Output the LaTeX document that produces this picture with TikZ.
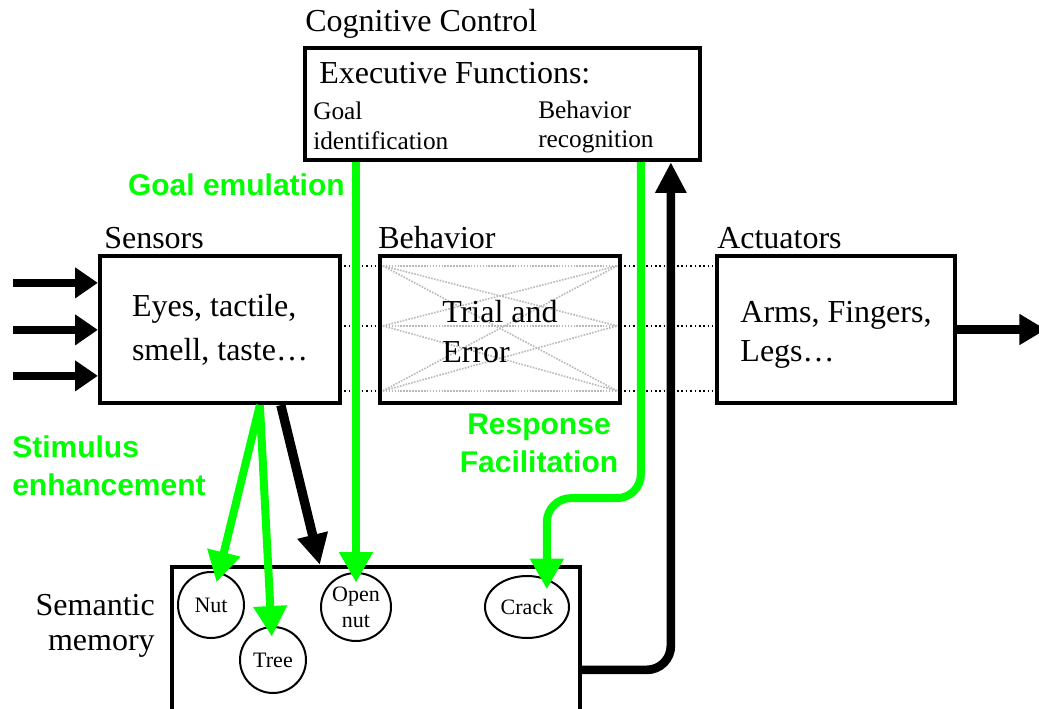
\documentclass[tikz,border=0pt]{standalone}
\usepackage{fontspec}
\setmainfont{Liberation Serif}
\newfontfamily\cuefont{Liberation Sans}
\usetikzlibrary{arrows.meta,calc,positioning,shapes.geometric}
\definecolor{emugreen}{RGB}{0,255,0}
\tikzset{
  box/.style     = {draw, line width=3.2pt, fill=white, inner sep=0pt},
  memo/.style    = {draw, line width=1.5pt, fill=white, inner sep=0pt,
                    font=\fontsize{16.5}{19.5}\selectfont, align=center},
  lbl/.style     = {inner sep=0pt, font=\fontsize{24}{33}\selectfont},
  note/.style    = {inner sep=0pt, font=\fontsize{19}{22}\selectfont},
  cuetext/.style = {inner sep=0pt, text=emugreen, font=\cuefont\bfseries\fontsize{22.5}{28.5}\selectfont},
  gvec/.style    = {-{Triangle[length=23pt,width=24pt]}, line width=6pt, draw=emugreen,
                    shorten >=-8pt},
  kvec/.style    = {-{Triangle[length=23pt,width=22pt]}, line width=6.5pt},
  link/.style    = {dotted, line width=1.3pt},
  trial/.style   = {densely dotted, gray!55, line width=1.2pt},
}
\begin{document}
\begin{tikzpicture}[x=0.75pt,y=-0.75pt]
  \clip (0,0) rectangle (1039,709);
  % cognitive control
  \node[lbl, anchor=base west] (cogt) at (305,32) {Cognitive Control};
  \node[box, minimum width=296.25pt, minimum height=84pt] (exec) at (502.5,104) {};
  \node[lbl, anchor=base west] (execfn) at (319,84) {Executive Functions:};
  \node[note, align=left, anchor=west] (goalid) at (313,126) {Goal\\identification};
  \node[note, align=left, anchor=west] (behrec) at (538,127) {Behavior\\recognition};

  % sensors, behavior, actuators
  \node[lbl, anchor=base west] (senst) at (104,249) {Sensors};
  \node[lbl, anchor=base west] (behavt) at (378,249) {Behavior};
  \node[lbl, anchor=base west] (actt) at (717,249) {Actuators};
  \node[box, lbl, align=left, minimum width=180pt, minimum height=110.25pt] (sens) at (220,329.5)
    {Eyes, tactile,\\smell, taste…};
  \node[box, minimum width=180pt, minimum height=110.25pt] (behav) at (500,329.5) {};
  \node[box, minimum width=178.5pt, minimum height=110.25pt] (act) at (836,329.5) {};
  \node[lbl, align=left, font=\fontsize{24}{29.5}\selectfont] (acttxt) at (836,335) {Arms, Fingers,\\Legs…};
  \foreach \dy in {12,72,137} {
    \draw[link] ($(sens.north east)+(2,\dy)$) -- ($(behav.north west)+(-2,\dy)$);
    \draw[link] ($(behav.north east)+(2,\dy)$) -- ($(act.north west)+(-2,\dy)$);
    \foreach \ey in {12,72,137}
      \draw[trial] ($(behav.north west)+(5,\dy)$) -- ($(behav.north east)+(-5,\ey)$);
  }
  \node[lbl, align=left, font=\fontsize{24}{30}\selectfont] (trialt) at (500,332) {Trial and\\Error};

  % semantic memory
  \node[lbl, align=right, anchor=east, font=\fontsize{24}{26.5}\selectfont] (semt) at (155,626) {Semantic\\memory};
  \node[box, minimum width=306pt, minimum height=122.25pt] (mem) at (376,648.5) {};
  \node[memo, circle, minimum size=49.5pt] (nut) at (211,605) {Nut};
  \node[memo, circle, minimum size=49.5pt] (tree) at (273,660) {Tree};
  \node[memo, ellipse, minimum width=52.5pt, minimum height=51pt] (opennut) at (356,607) {Open\\nut};
  \node[memo, ellipse, minimum width=63pt, minimum height=46.5pt] (crack) at (527,607) {Crack};

  % green labels
  \node[cuetext, anchor=east] (goalemu) at (345,185) {Goal emulation};
  \node[cuetext, align=left, anchor=west] (stim) at (12,466) {Stimulus\\enhancement};
  \node[cuetext, align=center] (resp) at (539,443) {Response\\Facilitation};

  % arrows
  \foreach \dy in {29,76,122}
    \draw[kvec, -{Triangle[length=17pt,width=22pt]}] ($(sens.north west)+(-85,\dy)$) -- ($(sens.north west)+(0,\dy)$);
  \coordinate (out) at (1046,329.5);
  \draw[kvec, -{Triangle[length=20pt,width=22pt]}] (act.east) -- (out);
  \draw[gvec] ($(sens.south west)+(162,0)$) -- (nut);
  \draw[gvec] ($(sens.south west)+(162,0)$) -- (tree);
  \draw[kvec, line width=7pt] ($(sens.south west)+(183,0)$) -- ($(mem.north west)+(150,0)$);
  \draw[gvec] (opennut.north |- exec.south) -- (opennut.north);
  \draw[gvec, rounded corners=18pt] ($(exec.south west)+(338,0)$) -- ++(0,336) -| (crack.55);
  \draw[kvec, rounded corners=18pt] ($(mem.north east)+(0,105)$) -| ($(exec.south west)+(368,0)$);
\end{tikzpicture}
\end{document}
